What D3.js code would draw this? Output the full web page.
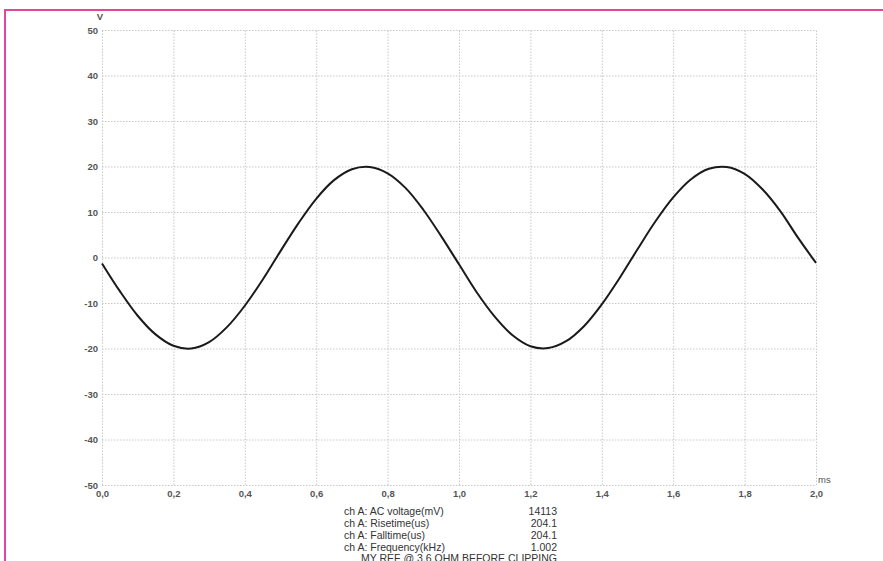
<!DOCTYPE html>
<html>
<head>
<meta charset="utf-8">
<script src="https://cdn.jsdelivr.net/npm/d3@7"></script>
<style>
  body { margin: 0; background: #fff; }
  svg { display: block; }
</style>
</head>
<body>
<div id="chart"></div>
<script>
// time (ms) and voltage (V)
const times = [0.00, 0.05, 0.10, 0.15, 0.20, 0.25, 0.30, 0.35, 0.40, 0.45,
               0.50, 0.55, 0.60, 0.65, 0.70, 0.75, 0.80, 0.85, 0.90, 0.95,
               1.00, 1.05, 1.10, 1.15, 1.20, 1.25, 1.30, 1.35, 1.40, 1.45,
               1.50, 1.55, 1.60, 1.65, 1.70, 1.75, 1.80, 1.85, 1.90, 1.95, 2.00];
const volts = [-1.3, -7.4, -12.8, -16.9, -19.4, -20.0, -18.6, -15.3, -10.6, -4.9,
               1.4, 7.5, 12.9, 17.0, 19.4, 19.9, 18.5, 15.3, 10.5, 4.7,
               -1.5, -7.7, -13.0, -17.1, -19.5, -19.9, -18.4, -15.1, -10.3, -4.5,
               1.8, 7.9, 13.2, 17.2, 19.5, 19.9, 18.4, 15.0, 10.2, 4.3, -1.2];
const xTicks = [0, 0.2, 0.4, 0.6, 0.8, 1.0, 1.2, 1.4, 1.6, 1.8, 2.0];
const yTicks = [50, 40, 30, 20, 10, 0, -10, -20, -30, -40, -50];
const measureNames = ["ch A: AC voltage(mV)", "ch A: Risetime(us)", "ch A: Falltime(us)", "ch A: Frequency(kHz)"];
const measureValues = ["14113", "204.1", "204.1", "1.002"];
const caption = "MY  REF @ 3.6 OHM BEFORE CLIPPING";

const width = 883, height = 561,
      margin = ({top: 30, right: 67, bottom: 76, left: 102});

let svg = d3.select("#chart")
            .append("svg")
            .attr("width", width)
            .attr("height", height)
            .attr("viewBox", [0, 0, width, height]);

// pink frame round the picture
svg.append("path")
   .attr("d", `M5,${height + 5} V10 H${width + 5}`)
   .attr("fill", "none")
   .attr("stroke", "#e2479c")
   .attr("stroke-width", 2);

const x = d3.scaleLinear()
            .domain([0, 2])
            .range([margin.left, width - margin.right]);

const y = d3.scaleLinear()
            .domain([-50, 50])
            .range([height - margin.bottom, margin.top]);

const fmt = d => d3.format(".1f")(d).replace(".", ",");

// dotted grid, drawn with the axes' ticks
const grid = svg.append("g").attr("class", "grid");
grid.append("g")
    .attr("transform", `translate(0, ${y(-50)})`)
    .call(d3.axisBottom(x).tickValues(xTicks).tickSize(-(y(-50) - y(50))).tickFormat(""))
    .call(g => g.select(".domain").remove());
grid.append("g")
    .attr("transform", `translate(${x(0)}, 0)`)
    .call(d3.axisLeft(y).tickValues(yTicks).tickSize(-(x(2) - x(0))).tickFormat(""))
    .call(g => g.select(".domain").remove());
grid.selectAll("line")
    .attr("stroke", "#c8c8c8")
    .attr("stroke-width", 1)
    .attr("stroke-dasharray", "1.5,1.5");

// tick labels
const yAxis = svg.append("g")
    .attr("transform", `translate(${x(0)}, 0)`)
    .call(d3.axisLeft(y).tickValues(yTicks).tickFormat(d => String(d)).tickSize(0).tickPadding(4))
    .call(g => g.select(".domain").remove());
const xAxis = svg.append("g")
    .attr("transform", `translate(0, ${y(-50)})`)
    .call(d3.axisBottom(x).tickValues(xTicks).tickFormat(fmt).tickSize(0).tickPadding(5))
    .call(g => g.select(".domain").remove());
svg.selectAll(".tick text")
   .attr("font-family", "Liberation Sans, Arial, sans-serif")
   .attr("font-size", 9.5)
   .attr("font-weight", "bold")
   .attr("fill", "#555");

svg.append("text")
   .text("V")
   .attr("x", x(0) - 2)
   .attr("y", 20)
   .attr("text-anchor", "middle")
   .attr("font-family", "Liberation Sans, Arial, sans-serif")
   .attr("font-size", 9.5)
   .attr("font-weight", "bold")
   .attr("fill", "#555");

svg.append("text")
   .text("ms")
   .attr("x", x(2) + 2)
   .attr("y", y(-50) - 2)
   .attr("font-family", "Liberation Sans, Arial, sans-serif")
   .attr("font-size", 9.5)
   .attr("fill", "#555");

// the trace
const line = d3.line()
    .x((d, i) => x(times[i]))
    .y(d => y(d))
    .curve(d3.curveCatmullRom);

svg.append("path")
   .datum(volts)
   .attr("d", line)
   .attr("fill", "none")
   .attr("stroke", "#1a1a1a")
   .attr("stroke-width", 2);

// measurement table under the plot
let rows = svg.selectAll(".measure")
    .data(measureNames)
    .join("g")
    .attr("class", "measure")
    .attr("transform", (d, i) => `translate(0, ${515 + i * 12})`);

rows.append("text")
    .text(d => d)
    .attr("x", 344)
    .attr("font-family", "Liberation Sans, Arial, sans-serif")
    .attr("font-size", 10.5)
    .attr("fill", "#333");

rows.append("text")
    .text((d, i) => measureValues[i])
    .attr("x", 557)
    .attr("text-anchor", "end")
    .attr("font-family", "Liberation Sans, Arial, sans-serif")
    .attr("font-size", 10.5)
    .attr("fill", "#333");

svg.append("text")
   .text(caption)
   .attr("x", 459)
   .attr("y", 562)
   .attr("text-anchor", "middle")
   .attr("font-family", "Liberation Sans, Arial, sans-serif")
   .attr("font-size", 10.5)
   .attr("fill", "#333");
</script>
</body>
</html>
